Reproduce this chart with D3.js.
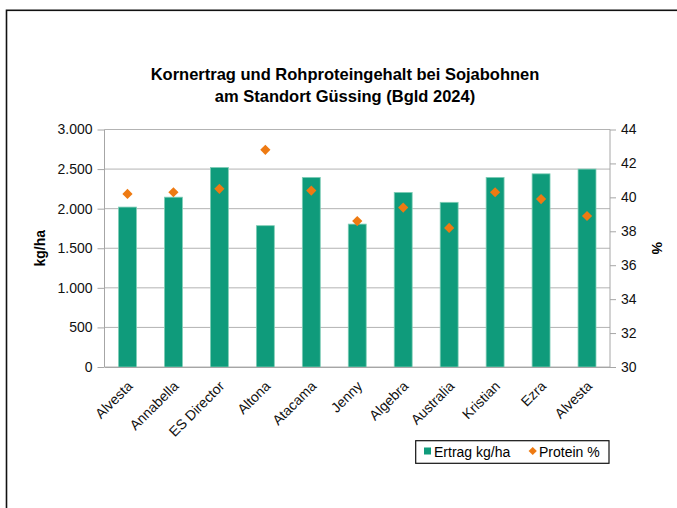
<!DOCTYPE html>
<html>
<head>
<meta charset="utf-8">
<script src="https://cdn.jsdelivr.net/npm/d3@7"></script>
<style>
  body { margin: 0; background: #fff; }
  svg { font-family: "Liberation Sans", Arial, Helvetica, sans-serif; }
</style>
</head>
<body>
<svg id="canvas" width="677" height="508"></svg>
<script>
const sorten = ['Alvesta', 'Annabella', 'ES Director', 'Altona', 'Atacama', 'Jenny', 'Algebra', 'Australia', 'Kristian', 'Ezra', 'Alvesta'];
const ertrag = [2020, 2145, 2520, 1785, 2395, 1805, 2205, 2080, 2395, 2440, 2500];
const protein = [40.2, 40.3, 40.5, 42.8, 40.4, 38.6, 39.4, 38.2, 40.3, 39.9, 38.9];
const ertragTicks = [0, 500, 1000, 1500, 2000, 2500, 3000];
const proteinTicks = [30, 32, 34, 36, 38, 40, 42, 44];

const svg = d3.select('#canvas');
const plotLeft = 104.5, plotRight = 610, plotTop = 129.5, plotBottom = 367;

// outer frame
svg.append('rect')
	.attr('x', 6.5).attr('y', 10.3)
	.attr('width', 700).attr('height', 600)
	.attr('fill', 'none').attr('stroke', '#111').attr('stroke-width', 1.6);

const x = d3.scaleBand().domain(d3.range(sorten.length)).range([plotLeft, plotRight]).paddingInner(0.61).paddingOuter(0.305);
const y = d3.scaleLinear().domain([0, 3000]).range([plotBottom, plotTop]);
const y2 = d3.scaleLinear().domain([30, 44]).range([plotBottom, plotTop]);

// gridlines
svg.append('g')
	.selectAll('line')
	.data(ertragTicks)
	.enter()
	.append('line')
	.attr('x1', plotLeft).attr('x2', plotRight)
	.attr('y1', (d) => y(d)).attr('y2', (d) => y(d))
	.attr('stroke', '#b3b3b3').attr('stroke-width', 1);

// bars
svg.append('g')
	.selectAll('rect')
	.data(ertrag)
	.enter()
	.append('rect')
	.attr('x', (d, i) => x(i))
	.attr('y', (d) => y(d))
	.attr('width', x.bandwidth())
	.attr('height', (d) => y(0) - y(d))
	.attr('fill', '#0f9b7b')
	.attr('stroke', '#7fcdb6')
	.attr('stroke-width', 0.8);

// protein points (square turned 45 degrees)
const diamond = d3.symbol().type(d3.symbolSquare).size(52);
svg.append('g')
	.selectAll('path')
	.data(protein)
	.enter()
	.append('path')
	.attr('d', diamond)
	.attr('transform', (d, i) => 'translate(' + (x(i) + x.bandwidth() / 2) + ',' + y2(d) + ') rotate(45)')
	.attr('fill', '#ee7a12');

// axes
const leftAxis = svg.append('g')
	.attr('transform', 'translate(' + plotLeft + ',0)')
	.call(d3.axisLeft(y).tickValues(ertragTicks).tickSize(7).tickPadding(5)
		.tickFormat((d) => d3.format(',')(d).replace(',', '.')));
const rightAxis = svg.append('g')
	.attr('transform', 'translate(' + plotRight + ',0)')
	.call(d3.axisRight(y2).tickValues(proteinTicks).tickSize(6).tickPadding(5));
const bottomAxis = svg.append('g')
	.attr('transform', 'translate(0,' + plotBottom + ')')
	.call(d3.axisBottom(x).tickSize(0).tickFormat((d) => sorten[d]));

[leftAxis, rightAxis, bottomAxis].forEach((g) => {
	g.select('.domain').attr('stroke', '#a6a6a6');
	g.selectAll('.tick line').attr('stroke', '#a6a6a6');
	g.selectAll('text').attr('font-family', null).attr('font-size', 14).attr('fill', '#111');
});
leftAxis.select('.domain').attr('d', 'M0,' + plotTop + 'V' + plotBottom);
rightAxis.select('.domain').attr('d', 'M0,' + plotTop + 'V' + plotBottom);

bottomAxis.selectAll('text')
	.attr('x', 0).attr('y', 0).attr('dy', 0)
	.attr('text-anchor', 'end')
	.attr('transform', 'translate(6,20) rotate(-45)');

// axis titles
svg.append('text')
	.attr('transform', 'translate(45,' + (plotTop + plotBottom) / 2 + ') rotate(-90)')
	.attr('text-anchor', 'middle')
	.attr('font-size', 14).attr('font-weight', 'bold')
	.text('kg/ha');
svg.append('text')
	.attr('transform', 'translate(652,' + (plotTop + plotBottom) / 2 + ') rotate(90)')
	.attr('text-anchor', 'middle')
	.attr('font-size', 14).attr('font-weight', 'bold')
	.text('%');

// title
const title = svg.append('text').attr('text-anchor', 'middle').attr('font-size', 16.5).attr('font-weight', 'bold');
title.append('tspan').attr('x', 345).attr('y', 80).text('Kornertrag und Rohproteingehalt bei Sojabohnen');
title.append('tspan').attr('x', 345).attr('y', 102).text('am Standort Güssing (Bgld 2024)');

// legend
const legend = svg.append('g');
legend.append('rect')
	.attr('x', 415.7).attr('y', 440.7).attr('width', 193.3).attr('height', 22.6)
	.attr('fill', '#fff').attr('stroke', '#111').attr('stroke-width', 1.2);
legend.append('rect')
	.attr('x', 424).attr('y', 447.5).attr('width', 7).attr('height', 7)
	.attr('fill', '#0f9b7b');
legend.append('text').attr('x', 434).attr('y', 457).attr('font-size', 14).text('Ertrag kg/ha');
legend.append('path')
	.attr('d', d3.symbol().type(d3.symbolSquare).size(34))
	.attr('transform', 'translate(532.7,451) rotate(45)')
	.attr('fill', '#ee7a12');
legend.append('text').attr('x', 539).attr('y', 457).attr('font-size', 14).text('Protein %');
</script>
</body>
</html>
